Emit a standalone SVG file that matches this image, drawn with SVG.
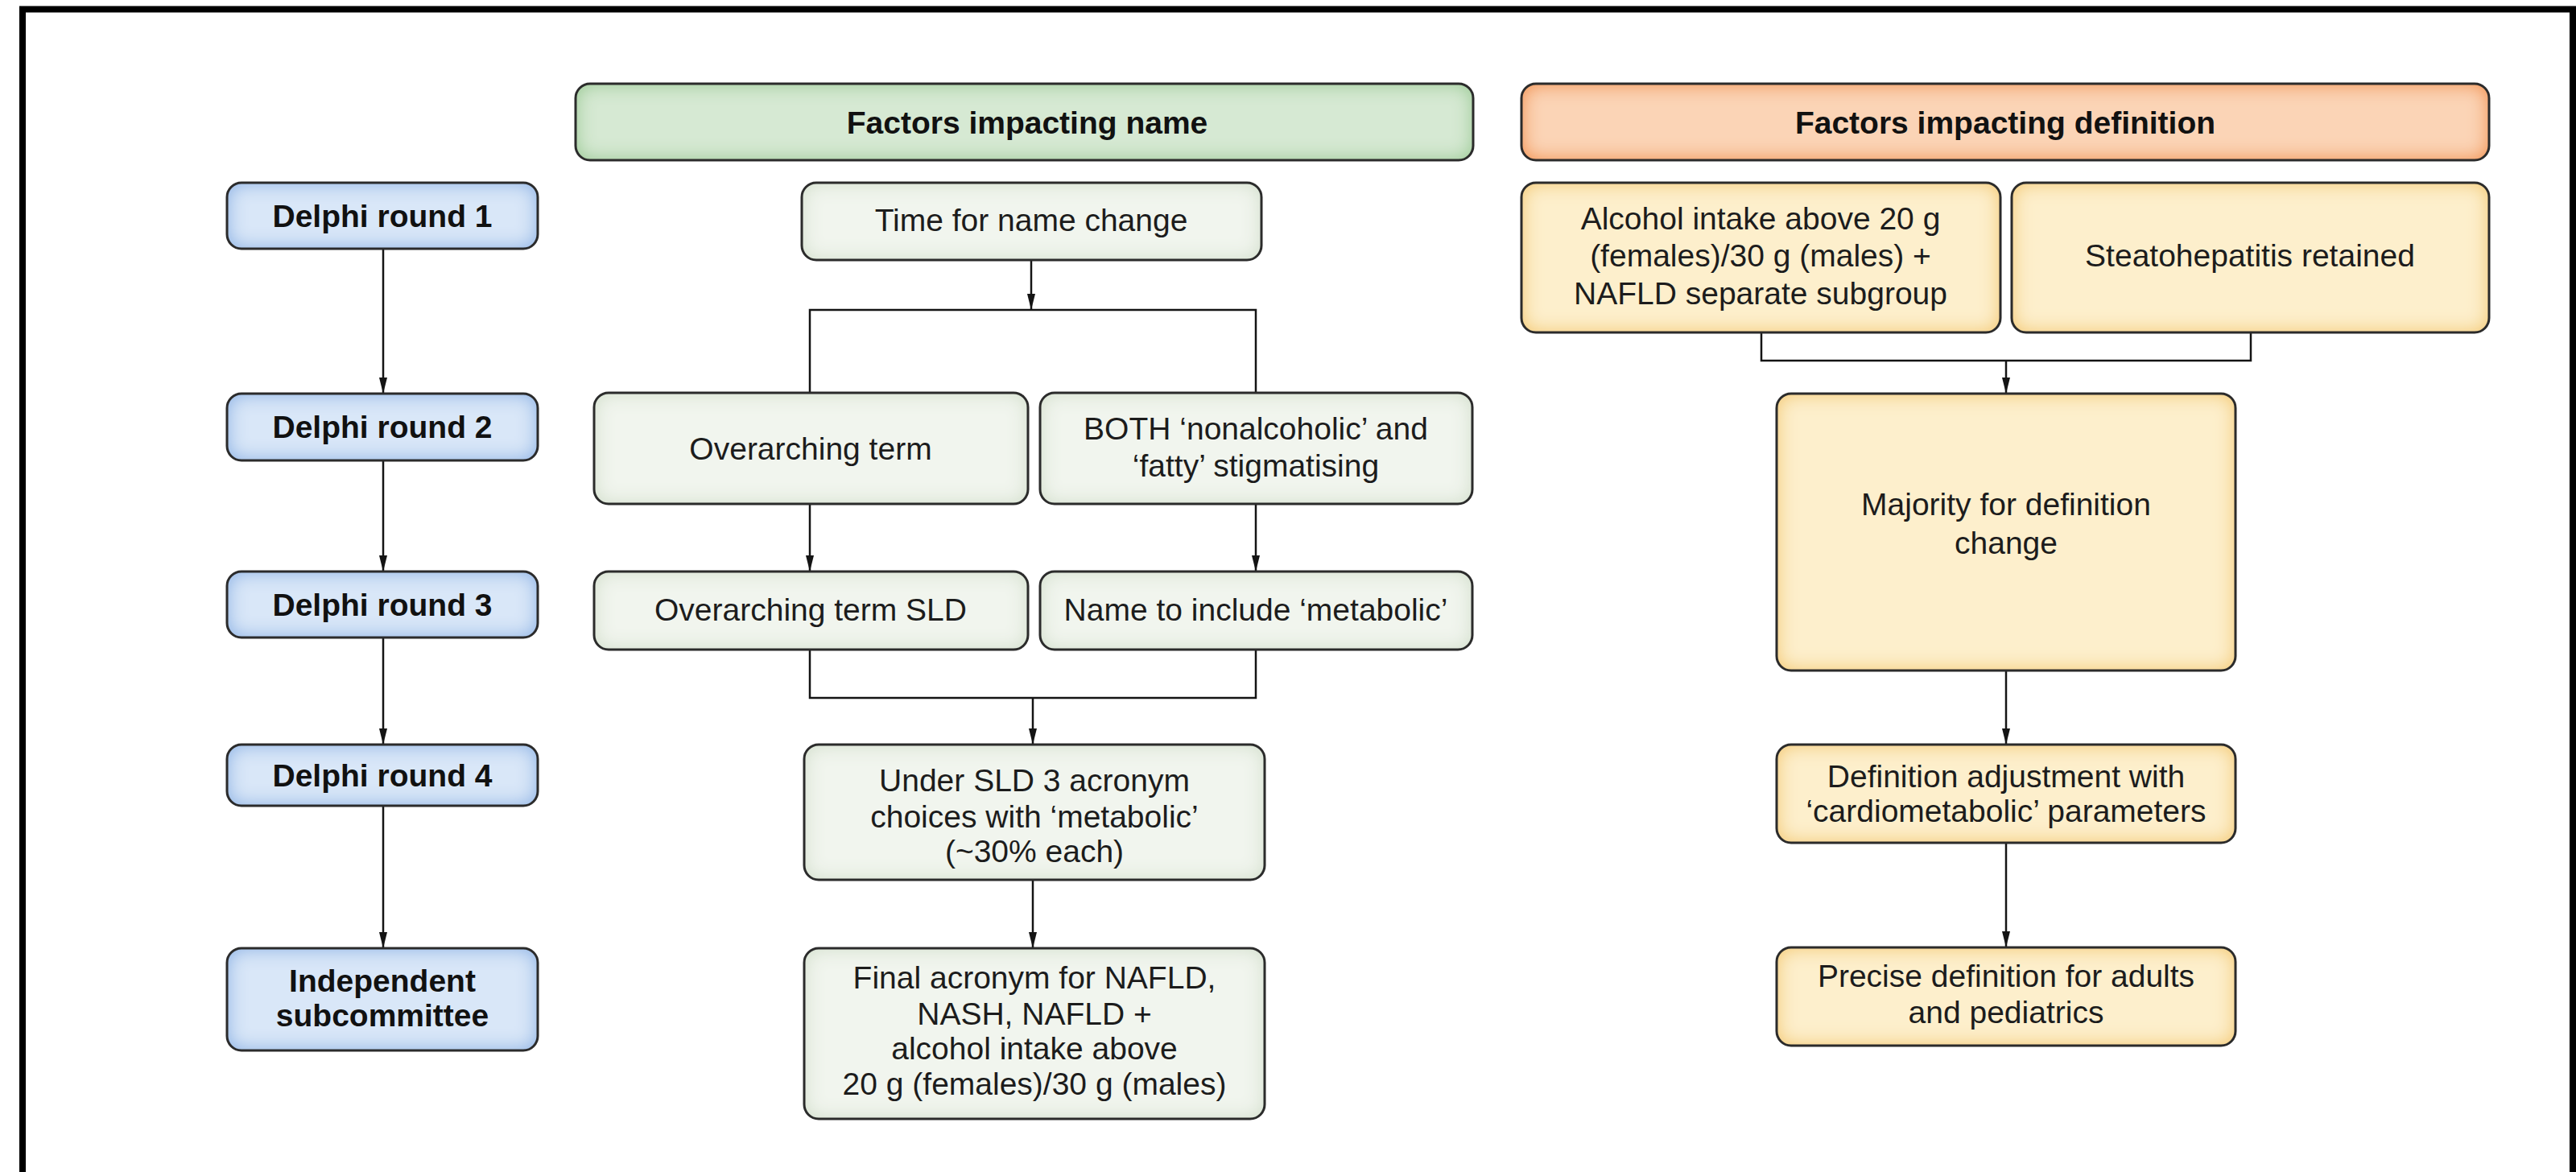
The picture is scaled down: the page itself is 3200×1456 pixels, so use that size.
<svg xmlns="http://www.w3.org/2000/svg" width="3200" height="1456" viewBox="0 0 3200 1456">
<style>
.bd{fill:none;stroke:#2b2b2b;stroke-width:3}
.t{font-family:"Liberation Sans",Arial,Helvetica,sans-serif;font-size:39px;fill:#1c1c1c;text-anchor:middle}
.b{font-weight:bold;fill:#111}
.c{fill:none;stroke:#141414;stroke-width:2.5}
.a{marker-end:url(#ah)}
.blue{fill:#d9e7f8;filter:url(#gBlue)}
.gh{fill:#d6e9d3;filter:url(#gGH)}
.gn{fill:#f1f5ee;filter:url(#gGN)}
.oh{fill:#fbd4b6;filter:url(#gOH)}
.yn{fill:#fdefcc;filter:url(#gYN)}
</style>
<defs>
<marker id="ah" markerUnits="userSpaceOnUse" markerWidth="20" markerHeight="10" refX="20" refY="5" orient="auto">
<path d="M0,0 L20,5 L0,10 z" fill="#141414"/>
</marker>
<filter id="gBlue" x="0" y="0" width="1" height="1" color-interpolation-filters="sRGB">
<feGaussianBlur in="SourceAlpha" stdDeviation="12" result="b"/>
<feComposite in="SourceAlpha" in2="b" operator="out" result="e"/>
<feFlood flood-color="#86ade2"/>
<feComposite in2="e" operator="in" result="g"/>
<feMerge><feMergeNode in="SourceGraphic"/><feMergeNode in="g"/></feMerge>
</filter>
<filter id="gGH" x="0" y="0" width="1" height="1" color-interpolation-filters="sRGB">
<feGaussianBlur in="SourceAlpha" stdDeviation="12" result="b"/>
<feComposite in="SourceAlpha" in2="b" operator="out" result="e"/>
<feFlood flood-color="#94c68e"/>
<feComposite in2="e" operator="in" result="g"/>
<feMerge><feMergeNode in="SourceGraphic"/><feMergeNode in="g"/></feMerge>
</filter>
<filter id="gGN" x="0" y="0" width="1" height="1" color-interpolation-filters="sRGB">
<feGaussianBlur in="SourceAlpha" stdDeviation="12" result="b"/>
<feComposite in="SourceAlpha" in2="b" operator="out" result="e"/>
<feFlood flood-color="#cfdcc8"/>
<feComposite in2="e" operator="in" result="g"/>
<feMerge><feMergeNode in="SourceGraphic"/><feMergeNode in="g"/></feMerge>
</filter>
<filter id="gOH" x="0" y="0" width="1" height="1" color-interpolation-filters="sRGB">
<feGaussianBlur in="SourceAlpha" stdDeviation="12" result="b"/>
<feComposite in="SourceAlpha" in2="b" operator="out" result="e"/>
<feFlood flood-color="#f08843"/>
<feComposite in2="e" operator="in" result="g"/>
<feMerge><feMergeNode in="SourceGraphic"/><feMergeNode in="g"/></feMerge>
</filter>
<filter id="gYN" x="0" y="0" width="1" height="1" color-interpolation-filters="sRGB">
<feGaussianBlur in="SourceAlpha" stdDeviation="12" result="b"/>
<feComposite in="SourceAlpha" in2="b" operator="out" result="e"/>
<feFlood flood-color="#f2c46a"/>
<feComposite in2="e" operator="in" result="g"/>
<feMerge><feMergeNode in="SourceGraphic"/><feMergeNode in="g"/></feMerge>
</filter>
</defs>
<rect x="0" y="0" width="3200" height="1456" fill="#ffffff"/>
<path d="M28,1456 V11.5 H3196 V1456" fill="none" stroke="#000" stroke-width="8"/>

<g id="connectors">
<line class="c a" x1="476" y1="309" x2="476" y2="489"/>
<line class="c a" x1="476" y1="572" x2="476" y2="710"/>
<line class="c a" x1="476" y1="792" x2="476" y2="925"/>
<line class="c a" x1="476" y1="1001" x2="476" y2="1178"/>
<line class="c a" x1="1281" y1="323" x2="1281" y2="385"/>
<path class="c" d="M1006,488 V385 H1560 V488"/>
<line class="c a" x1="1006" y1="626" x2="1006" y2="710"/>
<line class="c a" x1="1560" y1="626" x2="1560" y2="710"/>
<path class="c" d="M1006,807 V867 H1560 V807"/>
<line class="c a" x1="1283" y1="867" x2="1283" y2="925"/>
<line class="c a" x1="1283" y1="1093" x2="1283" y2="1178"/>
<path class="c" d="M2188,413 V448 H2796 V413"/>
<line class="c a" x1="2492" y1="448" x2="2492" y2="489"/>
<line class="c a" x1="2492" y1="833" x2="2492" y2="925"/>
<line class="c a" x1="2492" y1="1047" x2="2492" y2="1177"/>
</g>

<g id="delphi1">
<rect class="blue" x="282" y="227" width="386" height="82" rx="18"/>
<rect class="bd" x="282" y="227" width="386" height="82" rx="18"/>
<text class="t b" x="475" y="282">Delphi round 1</text>
</g>
<g id="delphi2">
<rect class="blue" x="282" y="489" width="386" height="83" rx="18"/>
<rect class="bd" x="282" y="489" width="386" height="83" rx="18"/>
<text class="t b" x="475" y="544">Delphi round 2</text>
</g>
<g id="delphi3">
<rect class="blue" x="282" y="710" width="386" height="82" rx="18"/>
<rect class="bd" x="282" y="710" width="386" height="82" rx="18"/>
<text class="t b" x="475" y="765">Delphi round 3</text>
</g>
<g id="delphi4">
<rect class="blue" x="282" y="925" width="386" height="76" rx="18"/>
<rect class="bd" x="282" y="925" width="386" height="76" rx="18"/>
<text class="t b" x="475" y="977">Delphi round 4</text>
</g>
<g id="subcommittee">
<rect class="blue" x="282" y="1178" width="386" height="127" rx="18"/>
<rect class="bd" x="282" y="1178" width="386" height="127" rx="18"/>
<text class="t b" x="475" y="1232">Independent</text>
<text class="t b" x="475" y="1275">subcommittee</text>
</g>

<g id="header-name">
<rect class="gh" x="715" y="104" width="1115" height="95" rx="18"/>
<rect class="bd" x="715" y="104" width="1115" height="95" rx="18"/>
<text class="t b" x="1276" y="166">Factors impacting name</text>
</g>
<g id="time-name-change">
<rect class="gn" x="996" y="227" width="571" height="96" rx="18"/>
<rect class="bd" x="996" y="227" width="571" height="96" rx="18"/>
<text class="t" x="1281" y="287">Time for name change</text>
</g>
<g id="overarching-term">
<rect class="gn" x="738" y="488" width="539" height="138" rx="18"/>
<rect class="bd" x="738" y="488" width="539" height="138" rx="18"/>
<text class="t" x="1007" y="571">Overarching term</text>
</g>
<g id="both-stigmatising">
<rect class="gn" x="1292" y="488" width="537" height="138" rx="18"/>
<rect class="bd" x="1292" y="488" width="537" height="138" rx="18"/>
<text class="t" x="1560" y="546">BOTH ‘nonalcoholic’ and</text>
<text class="t" x="1560" y="592">‘fatty’ stigmatising</text>
</g>
<g id="overarching-sld">
<rect class="gn" x="738" y="710" width="539" height="97" rx="18"/>
<rect class="bd" x="738" y="710" width="539" height="97" rx="18"/>
<text class="t" x="1007" y="771">Overarching term SLD</text>
</g>
<g id="name-metabolic">
<rect class="gn" x="1292" y="710" width="537" height="97" rx="18"/>
<rect class="bd" x="1292" y="710" width="537" height="97" rx="18"/>
<text class="t" x="1560" y="771">Name to include ‘metabolic’</text>
</g>
<g id="under-sld">
<rect class="gn" x="999" y="925" width="572" height="168" rx="18"/>
<rect class="bd" x="999" y="925" width="572" height="168" rx="18"/>
<text class="t" x="1285" y="983">Under SLD 3 acronym</text>
<text class="t" x="1285" y="1028">choices with ‘metabolic’</text>
<text class="t" x="1285" y="1071">(~30% each)</text>
</g>
<g id="final-acronym">
<rect class="gn" x="999" y="1178" width="572" height="212" rx="18"/>
<rect class="bd" x="999" y="1178" width="572" height="212" rx="18"/>
<text class="t" x="1285" y="1228">Final acronym for NAFLD,</text>
<text class="t" x="1285" y="1273">NASH, NAFLD +</text>
<text class="t" x="1285" y="1316">alcohol intake above</text>
<text class="t" x="1285" y="1360">20 g (females)/30 g (males)</text>
</g>

<g id="header-definition">
<rect class="oh" x="1890" y="104" width="1202" height="95" rx="18"/>
<rect class="bd" x="1890" y="104" width="1202" height="95" rx="18"/>
<text class="t b" x="2491" y="166">Factors impacting definition</text>
</g>
<g id="alcohol-intake">
<rect class="yn" x="1890" y="227" width="595" height="186" rx="18"/>
<rect class="bd" x="1890" y="227" width="595" height="186" rx="18"/>
<text class="t" x="2187" y="285">Alcohol intake above 20 g</text>
<text class="t" x="2187" y="331">(females)/30 g (males) +</text>
<text class="t" x="2187" y="378">NAFLD separate subgroup</text>
</g>
<g id="steatohepatitis">
<rect class="yn" x="2499" y="227" width="593" height="186" rx="18"/>
<rect class="bd" x="2499" y="227" width="593" height="186" rx="18"/>
<text class="t" x="2795" y="331">Steatohepatitis retained</text>
</g>
<g id="majority">
<rect class="yn" x="2207" y="489" width="570" height="344" rx="18"/>
<rect class="bd" x="2207" y="489" width="570" height="344" rx="18"/>
<text class="t" x="2492" y="640">Majority for definition</text>
<text class="t" x="2492" y="688">change</text>
</g>
<g id="definition-adjustment">
<rect class="yn" x="2207" y="925" width="570" height="122" rx="18"/>
<rect class="bd" x="2207" y="925" width="570" height="122" rx="18"/>
<text class="t" x="2492" y="978">Definition adjustment with</text>
<text class="t" x="2492" y="1021">‘cardiometabolic’ parameters</text>
</g>
<g id="precise-definition">
<rect class="yn" x="2207" y="1177" width="570" height="122" rx="18"/>
<rect class="bd" x="2207" y="1177" width="570" height="122" rx="18"/>
<text class="t" x="2492" y="1226">Precise definition for adults</text>
<text class="t" x="2492" y="1271">and pediatrics</text>
</g>
</svg>
